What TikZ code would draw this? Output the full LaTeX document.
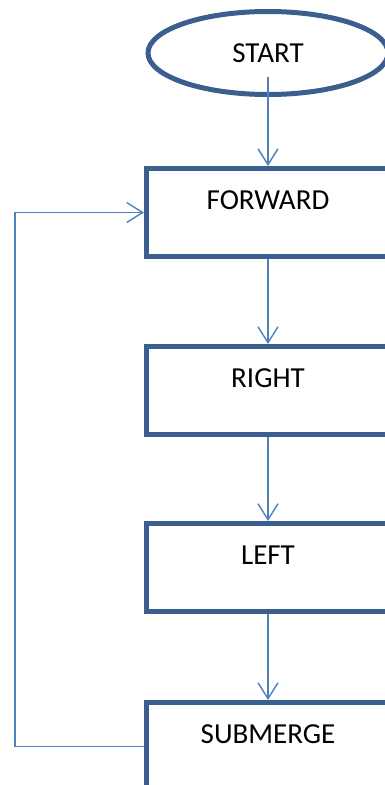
\documentclass[tikz,border=0pt]{standalone}
\usepackage{fontspec}
\setmainfont{Carlito}
\usetikzlibrary{positioning,shapes.geometric,arrows.meta}
\definecolor{edge}{HTML}{3A5F8E}
\definecolor{wire}{HTML}{4F81BD}
\tikzset{stepbox/.style={draw=edge,line width=5pt,rectangle,minimum width=243pt,inner sep=0pt,text height=40.5pt,text depth=47.5pt,font=\fontsize{29}{34}\selectfont},term/.style={draw=edge,line width=5pt,ellipse,minimum width=240pt,minimum height=83pt,inner sep=0pt,font=\fontsize{29}{34}\selectfont},flow/.style={draw=wire,line width=1.4pt,-{Straight Barb[length=16pt,width=20pt]}}}

\begin{document}
\begin{tikzpicture}
\useasboundingbox (0,0) rectangle (385pt,-785pt);
\clip (0,0) rectangle (385pt,-785pt);
\node[term] (start) at (268pt,-53pt) {START};
\node[stepbox,below=69pt of start] (forward) {FORWARD};
\node[stepbox,below=85pt of forward] (right) {RIGHT};
\node[stepbox,below=84pt of right] (left) {LEFT};
\node[stepbox,below=86pt of left] (submerge) {SUBMERGE};
\draw[flow] ([yshift=20pt]start.south) -- (forward);
\draw[flow] (forward) -- (right);\draw[flow] (right) -- (left);\draw[flow] (left) -- (submerge);
\draw[flow] (submerge.west) -- ++(-129pt,0) |- (forward.west);
\end{tikzpicture}
\end{document}
